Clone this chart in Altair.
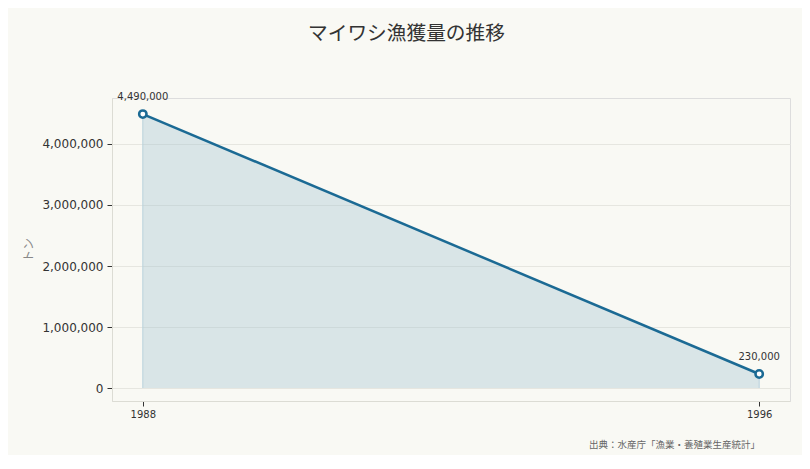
import altair as alt
import pandas as pd

years = [1988, 1996]
catch_tons = [4490000, 230000]
label_texts = ["4,490,000", "230,000"]
y_ticks = [0, 1000000, 2000000, 3000000, 4000000]
source_text = "出典：水産庁「漁業・養殖業生産統計」"

df = pd.DataFrame({"year": years, "tons": catch_tons, "label": label_texts})

LINE = "#1b6a94"
FONT = "DejaVu Sans, Noto Sans CJK JP"

x = alt.X("year:Q", scale=alt.Scale(domain=[1987.6, 1996.4], nice=False, zero=False),
          axis=alt.Axis(values=years, format="d", title=None, grid=False,
                        labelFontSize=10, labelColor="#333", tickColor="#333",
                        domainColor="#dcdcd4", labelPadding=3, tickSize=5))
y = alt.Y("tons:Q", scale=alt.Scale(domain=[-213000, 4754000], nice=False, zero=False),
          axis=alt.Axis(values=y_ticks, format=",d", title="トン", titleColor="#888",
                        titleFontWeight="normal", titleFontSize=12, titlePadding=6,
                        labelFontSize=12, labelColor="#333", tickColor="#333",
                        domainColor="#dcdcd4", gridColor="#e6e6e0", tickSize=5,
                        labelPadding=4))

base = alt.Chart(df).encode(x=x, y=y)

area = base.mark_area(color="#9fc0cf", opacity=0.35, line=False).encode(
    y2=alt.datum(0))
area_edge = base.mark_rule(color="#b9d2dd", strokeWidth=1).encode(y2=alt.datum(0))
line = base.mark_line(color=LINE, strokeWidth=2.5)
points = base.mark_point(shape="circle", filled=True, fill="white", stroke=LINE,
                         strokeWidth=2.5, size=55, opacity=1)
labels = base.mark_text(dy=-17, fontSize=10, color="#333", font=FONT).encode(text="label:N")
source = alt.Chart(pd.DataFrame({"t": [source_text]})).mark_text(
    align="right", baseline="middle", fontSize=9.5, color="#666", font=FONT
).encode(x=alt.value(648), y=alt.value(347), text="t:N")

chart = (area + area_edge + line + points + labels + source).properties(
    width=678, height=303,
    background="#f9f9f4",
    padding={"left": 14, "top": 16, "right": 12, "bottom": 5},
    title=alt.TitleParams("マイワシ漁獲量の推移", fontSize=19.7, fontWeight="normal",
                          color="#333", font="Noto Sans CJK JP", offset=48,
                          anchor="middle", frame="bounds"),
).configure_view(stroke=None).configure(font=FONT)

chart.save("out.html", embed_options={"renderer": "svg", "actions": False})
